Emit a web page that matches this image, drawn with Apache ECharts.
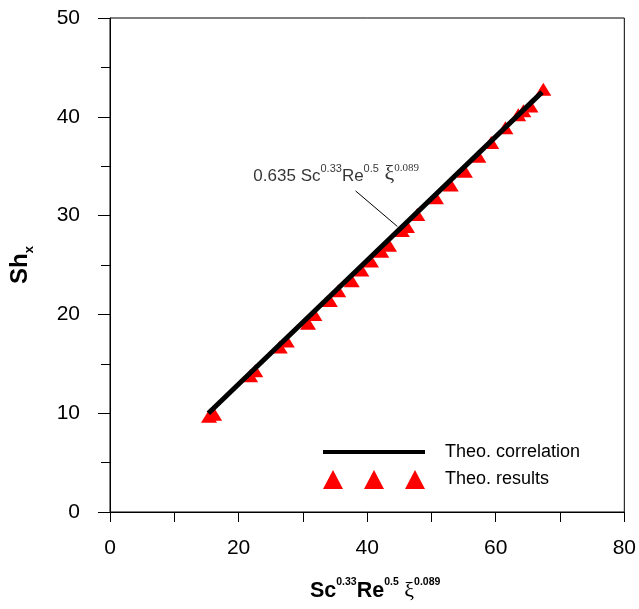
<!DOCTYPE html>
<html><head><meta charset="utf-8">
<script src="https://cdn.jsdelivr.net/npm/echarts@6/dist/echarts.min.js"></script>
<style>html,body{margin:0;padding:0;background:#fff}#c{width:639px;height:609px}</style>
</head><body><div id="c"></div>
<script>
// Theo. results (triangles)
const resultX = [15.4,16.2,21.8,22.6,26.4,27.5,30.8,31.8,34.2,35.5,37.6,39.1,40.6,42.2,43.4,45.4,46.2,47.8,50.7,53.0,55.2,57.3,59.3,61.5,63.5,64.3,65.4,67.4];
const resultY = [9.7,9.9,13.8,14.3,16.7,17.3,19.1,20.0,21.4,22.4,23.4,24.5,25.4,26.4,27.0,28.5,28.9,30.1,31.8,33.1,34.5,36.0,37.4,38.9,40.2,40.6,41.1,42.8];
// Theo. correlation line
const corrX = [15.3, 67.2];
const corrY = [10.0, 42.5];
// annotation leader line and label anchor
const leaderX = [38.2, 44.7];
const leaderY = [32.5, 28.9];
const annotX = [22.3];
const annotY = [34.2];
const seriesNames = ['Theo. correlation', 'Theo. results'];

const zip = (a, b) => a.map((v, i) => [v, b[i]]);
const SANS = 'Liberation Sans, Arial, sans-serif';
const SERIF = 'Liberation Serif, Times New Roman, serif';

const chart = echarts.init(document.getElementById('c'), null, {renderer: 'canvas'});
chart.setOption({
  animation: false,
  backgroundColor: '#fff',
  grid: {left: 109, right: 12, top: 18, bottom: 97, show: true, borderColor: '#000', borderWidth: 1},
  xAxis: {
    type: 'value', min: 0, max: 80, interval: 20,
    axisLine: {show: true, lineStyle: {color: '#000', width: 1}},
    axisTick: {show: true, inside: false, length: 10, lineStyle: {color: '#000'}},
    minorTick: {show: true, splitNumber: 2, length: 10, lineStyle: {color: '#000'}},
    splitLine: {show: false},
    axisLabel: {color: '#000', fontSize: 21, fontFamily: SANS, margin: 26},
    name: '{b|Sc}{bs|0.33}{b|Re}{bs|0.5}{g| \u03BE}{bs|0.089}',
    nameLocation: 'middle', nameGap: 65,
    nameTextStyle: {
      color: '#000',
      padding: [0, 0, 0, 16],
      rich: {
        b: {fontSize: 21.5, fontWeight: 'bold', fontFamily: SANS, lineHeight: 25, verticalAlign: 'bottom'},
        bs: {fontSize: 10.5, fontWeight: 'bold', fontFamily: SANS, lineHeight: 11, verticalAlign: 'top'},
        g: {fontSize: 22, fontFamily: SERIF, lineHeight: 25, verticalAlign: 'bottom'}
      }
    }
  },
  yAxis: {
    type: 'value', min: 0, max: 50, interval: 10,
    axisLine: {show: true, lineStyle: {color: '#000', width: 1}},
    axisTick: {show: true, inside: false, length: 12, lineStyle: {color: '#000'}},
    minorTick: {show: true, splitNumber: 2, length: 9, lineStyle: {color: '#000'}},
    splitLine: {show: false},
    axisLabel: {color: '#000', fontSize: 21, fontFamily: SANS, margin: 30},
    name: '{b|Sh}{s|x}',
    nameLocation: 'middle', nameRotate: 90, nameGap: 74,
    nameTextStyle: {
      color: '#000',
      rich: {
        b: {fontSize: 24, fontWeight: 'bold', fontFamily: SANS, lineHeight: 28, verticalAlign: 'top'},
        s: {fontSize: 13, fontWeight: 'bold', fontFamily: SANS, lineHeight: 13, verticalAlign: 'bottom'}
      }
    }
  },
  legend: {
    orient: 'vertical', left: 323, top: 443, padding: 0,
    itemWidth: 102, itemHeight: 19, itemGap: 9,
    itemStyle: {borderWidth: 0},
    textStyle: {fontSize: 18, fontFamily: SANS, color: '#000', padding: [0, 0, 0, 15]},
    data: [
      {name: seriesNames[0], icon: 'path://M0,0H100V4H0Z'},
      {name: seriesNames[1], icon: 'path://M0,19L10,0L20,19Z M41,19L51,0L61,19Z M82,19L92,0L102,19Z'}
    ]
  },
  series: [
    {
      name: seriesNames[1], type: 'scatter', data: zip(resultX, resultY),
      symbol: 'triangle', symbolSize: [16, 13], color: '#ff0000',
      itemStyle: {color: '#ff0000', opacity: 1}, z: 2
    },
    {
      name: seriesNames[0], type: 'line', data: zip(corrX, corrY),
      symbol: 'none', color: '#000', lineStyle: {color: '#000', width: 5}, z: 3
    },
    {
      name: 'leader', type: 'line', data: zip(leaderX, leaderY),
      symbol: 'none', lineStyle: {color: '#000', width: 1}, silent: true, z: 3
    },
    {
      name: 'annotation', type: 'scatter', data: zip(annotX, annotY),
      symbolSize: 0, silent: true, z: 4,
      label: {
        show: true, position: 'right', distance: 0, color: '#000',
        formatter: '{a|0.635 Sc}{s|0.33}{a|Re}{s|0.5}{g| \u03BE}{gs|0.089}',
        rich: {
          a: {fontSize: 17, fontFamily: SANS, lineHeight: 22, verticalAlign: 'bottom', color: '#000'},
          s: {fontSize: 11, fontFamily: SANS, lineHeight: 11, verticalAlign: 'top', color: '#000'},
          g: {fontSize: 22, fontFamily: SERIF, lineHeight: 22, verticalAlign: 'bottom', color: '#000'},
          gs: {fontSize: 11, fontFamily: SERIF, lineHeight: 11, verticalAlign: 'top', color: '#000'}
        }
      }
    }
  ]
});
</script></body></html>
